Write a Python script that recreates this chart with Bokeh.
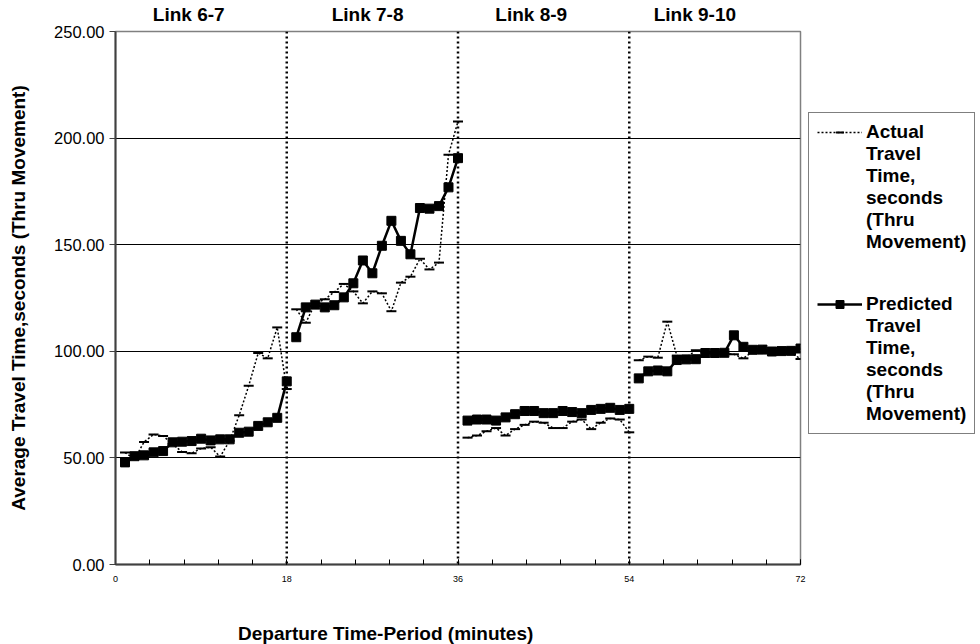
from bokeh.plotting import figure
from bokeh.models import (Range1d, FixedTicker, Span, Legend, LegendItem, NumeralTickFormatter,
                          LinearAxis)
from bokeh.embed import file_html
from bokeh.resources import INLINE

# ---------------- data ----------------
minutes = list(range(1, 73))
link_names = ["Link 6-7", "Link 7-8", "Link 8-9", "Link 9-10"]
link_breaks = [18, 36, 54]
points_per_link = 18

actual = [
    52.5, 49.5, 57.5, 61.0, 60.3, 56.5, 52.8, 52.2, 54.4, 55.0, 50.6, 58.0, 70.0, 83.8, 99.2, 96.7, 111.2, 82.3,
    119.7, 113.4, 122.5, 124.4, 127.8, 131.6, 128.1, 122.5, 128.1, 127.2, 118.8, 132.2, 135.0, 143.4, 138.4, 141.6, 192.2, 207.8,
    59.5, 60.5, 62.5, 64.0, 60.5, 63.5, 65.5, 67.0, 66.5, 64.0, 64.0, 67.0, 68.0, 63.5, 66.5, 68.5, 68.0, 62.0,
    95.8, 97.5, 97.0, 113.9, 98.0, 97.0, 100.5, 99.5, 99.0, 99.0, 98.6, 96.7, 100.0, 100.0, 99.5, 99.5, 99.5, 96.4,
]
predicted = [
    47.9, 50.8, 51.2, 52.6, 53.2, 57.3, 57.6, 57.9, 59.0, 58.2, 58.7, 58.7, 61.8, 62.3, 65.0, 66.7, 68.8, 85.9,
    106.6, 120.6, 121.9, 120.6, 121.6, 125.3, 131.9, 142.6, 136.6, 149.5, 161.2, 151.8, 145.5, 167.2, 166.9, 168.1, 176.9, 190.6,
    67.5, 68.0, 68.0, 67.5, 69.0, 70.5, 72.0, 72.0, 71.0, 71.0, 72.0, 71.5, 71.0, 72.5, 73.0, 73.5, 72.5, 73.0,
    87.3, 90.6, 91.0, 90.6, 95.9, 96.2, 96.3, 99.2, 99.2, 99.3, 107.5, 102.1, 100.7, 100.8, 99.9, 100.1, 100.2, 101.3,
]
x_ticks = [0, 18, 36, 54, 72]
y_ticks = [0, 50, 100, 150, 200, 250]
x_title = "Departure Time-Period (minutes)"
y_title = "Average Travel Time,seconds (Thru Movement)"
legend_actual_lines = ["Actual", "Travel", "Time,", "seconds", "(Thru", "Movement)"]
legend_pred_lines = ["Predicted", "Travel", "Time,", "seconds", "(Thru", "Movement)"]

# ---------------- layout constants ----------------
FONT = "Liberation Sans"
label_centers = [7.7, 26.5, 43.7, 60.9]
x_title_center = 28.4

p = figure(frame_width=685, frame_height=533, x_range=Range1d(0, 72), y_range=Range1d(0, 250),
           output_backend="svg", toolbar_location=None,
           min_border_left=115, min_border_right=0, min_border_top=0, min_border_bottom=0)
p.background_fill_color = "white"
p.outline_line_color = "#808080"
p.outline_line_width = 1.5

p.xgrid.visible = False
p.ygrid.ticker = FixedTicker(ticks=[t for t in y_ticks if 0 < t < 250])
p.ygrid.grid_line_color = "black"
p.ygrid.grid_line_width = 1

# y axis
p.yaxis.ticker = FixedTicker(ticks=y_ticks)
p.yaxis.formatter = NumeralTickFormatter(format="0.00")
p.yaxis.major_label_text_font = FONT
p.yaxis.major_label_text_font_size = "16.5px"
p.yaxis.major_label_text_color = "black"
p.yaxis.major_tick_in = 0
p.yaxis.major_tick_out = 6
p.yaxis.minor_tick_line_color = None
p.yaxis.axis_line_color = "#404040"
p.yaxis.axis_line_width = 2
p.yaxis.major_tick_line_color = "#404040"
p.yaxis.axis_label = y_title
p.yaxis.axis_label_text_font = FONT
p.yaxis.axis_label_text_font_style = "bold"
p.yaxis.axis_label_text_font_size = "19px"
p.yaxis.axis_label_text_color = "black"
p.yaxis.axis_label_standoff = 22

# x axis
p.xaxis.ticker = FixedTicker(ticks=x_ticks, minor_ticks=[round(3.6 * i, 1) for i in range(21)])
p.xaxis.major_label_text_font = FONT
p.xaxis.major_label_text_font_size = "9px"
p.xaxis.major_label_text_color = "black"
p.xaxis.major_tick_in = 5
p.xaxis.major_tick_out = 0
p.xaxis.minor_tick_in = 5
p.xaxis.minor_tick_out = 0
p.xaxis.major_label_standoff = 11
p.xaxis.axis_line_color = "#404040"
p.xaxis.axis_line_width = 2


def text_axis(ticks, labels, standoff):
    ax = LinearAxis(ticker=FixedTicker(ticks=ticks),
                    major_label_overrides={t: s for t, s in zip(ticks, labels)})
    ax.axis_line_color = None
    ax.major_tick_line_color = None
    ax.minor_tick_line_color = None
    ax.major_label_text_font = FONT
    ax.major_label_text_font_style = "bold"
    ax.major_label_text_font_size = "19px"
    ax.major_label_text_color = "black"
    ax.major_label_standoff = standoff
    return ax


# link names above the plot, x-axis title below
p.add_layout(text_axis(label_centers, link_names, 1), "above")
p.add_layout(text_axis([x_title_center], [x_title], 32), "below")

# link separators
for b in link_breaks:
    p.add_layout(Span(location=b, dimension="height", line_color="black",
                      line_dash="2 3", line_width=2.5))

# series, drawn link by link (lines are broken between links)
legend_actual = []
legend_pred = []
for k in range(len(link_names)):
    s = k * points_per_link
    xs = minutes[s:s + points_per_link]
    a = actual[s:s + points_per_link]
    pr = predicted[s:s + points_per_link]
    al = p.line(xs, a, line_color="black", line_width=1.5, line_dash="2 2")
    am = p.scatter(xs, a, marker="dash", size=10, line_color="black", line_width=2)
    pl = p.line(xs, pr, line_color="black", line_width=2.5)
    pm = p.scatter(xs, pr, marker="square", size=9, fill_color="black", line_color="black")
    if k == 0:
        legend_actual = [al, am]
        legend_pred = [pl, pm]

# legend: one row per text line, glyph only on the first line of each entry
items = [LegendItem(label=legend_actual_lines[0], renderers=legend_actual)]
items += [LegendItem(label=t, renderers=[]) for t in legend_actual_lines[1:]]
items += [LegendItem(label=" ", renderers=[]), LegendItem(label=" ", renderers=[])]
items += [LegendItem(label=legend_pred_lines[0], renderers=legend_pred)]
items += [LegendItem(label=t, renderers=[]) for t in legend_pred_lines[1:]]

legend = Legend(items=items, location=(8, 130))
legend.label_text_font = FONT
legend.label_text_font_style = "bold"
legend.label_text_font_size = "19px"
legend.label_text_color = "black"
legend.label_height = 20
legend.glyph_height = 20
legend.glyph_width = 45
legend.label_standoff = 4
legend.spacing = 0
legend.padding = 8
legend.margin = 0
legend.border_line_color = "black"
legend.border_line_width = 1.2
legend.background_fill_alpha = 1
p.add_layout(legend, "right")

open("out.html", "w").write(file_html(p, INLINE))
